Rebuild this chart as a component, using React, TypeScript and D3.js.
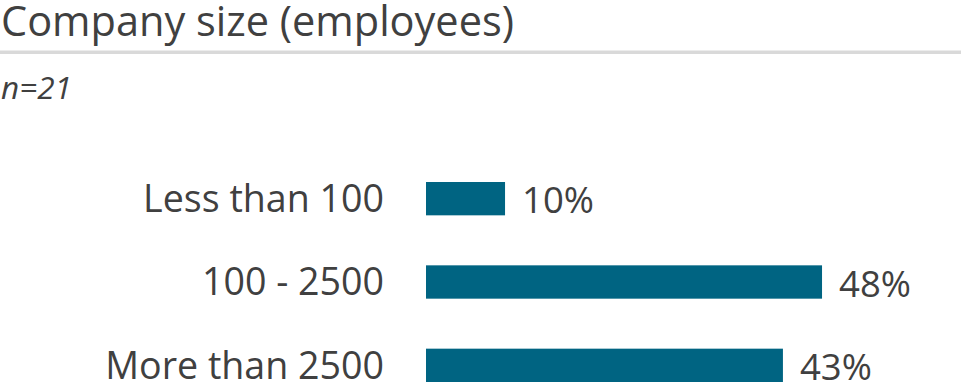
import React, { useEffect, useRef } from 'react';
import * as d3 from 'd3';

const categories = ['Less than 100', '100 - 2500', 'More than 2500'];
const shares = [9.5, 47.6, 42.9];
const title = 'Company size (employees)';
const subtitle = 'n=21';

const W = 961;
const H = 391;

const App = () => {
  const ref = useRef<SVGSVGElement>(null);

  useEffect(() => {
    const svg = d3.select(ref.current);
    svg.selectAll('*').remove();

    const font = "'Open Sans', sans-serif";
    const textColor = '#404040';

    // header
    svg.append('text')
      .attr('x', 1)
      .attr('y', 36)
      .style('font-family', font)
      .style('font-size', '41.5px')
      .style('fill', textColor)
      .text(title);

    svg.append('rect')
      .attr('x', 0)
      .attr('y', 50.5)
      .attr('width', W)
      .attr('height', 3.5)
      .attr('fill', '#d9d9d9');

    svg.append('text')
      .attr('x', 1)
      .attr('y', 99)
      .style('font-family', font)
      .style('font-style', 'italic')
      .style('font-size', '31.5px')
      .style('fill', textColor)
      .text(subtitle);

    const x = d3.scaleLinear().domain([0, 100]).range([426, 1258]);
    const y = d3.scaleBand<string>()
      .domain(categories)
      .range([157, 407])
      .paddingInner(0.6)
      .paddingOuter(0.3);

    const data = categories.map((c, i) => ({ c, v: shares[i] }));

    // category labels
    svg.selectAll('.cat')
      .data(data)
      .enter()
      .append('text')
      .attr('class', 'cat')
      .attr('x', 384)
      .attr('y', d => y(d.c)! + y.bandwidth() - 3.5)
      .attr('text-anchor', 'end')
      .style('font-family', font)
      .style('font-size', '37.6px')
      .style('fill', textColor)
      .text(d => d.c);

    // bars
    svg.selectAll('.bar')
      .data(data)
      .enter()
      .append('rect')
      .attr('class', 'bar')
      .attr('x', x(0))
      .attr('y', d => y(d.c)!)
      .attr('width', d => x(d.v) - x(0))
      .attr('height', y.bandwidth())
      .attr('fill', '#006482');

    // value labels
    svg.selectAll('.val')
      .data(data)
      .enter()
      .append('text')
      .attr('class', 'val')
      .attr('x', d => x(d.v) + 17)
      .attr('y', d => y(d.c)! + y.bandwidth() - 2)
      .style('font-family', font)
      .style('font-size', '36.5px')
      .style('fill', textColor)
      .text(d => d3.format('.0%')(d.v / 100));
  }, []);

  return (
    <svg
      ref={ref}
      width={W}
      height={H}
      style={{ position: 'absolute', left: 0, top: 0, background: '#fff' }}
    />
  );
};

export default App;
